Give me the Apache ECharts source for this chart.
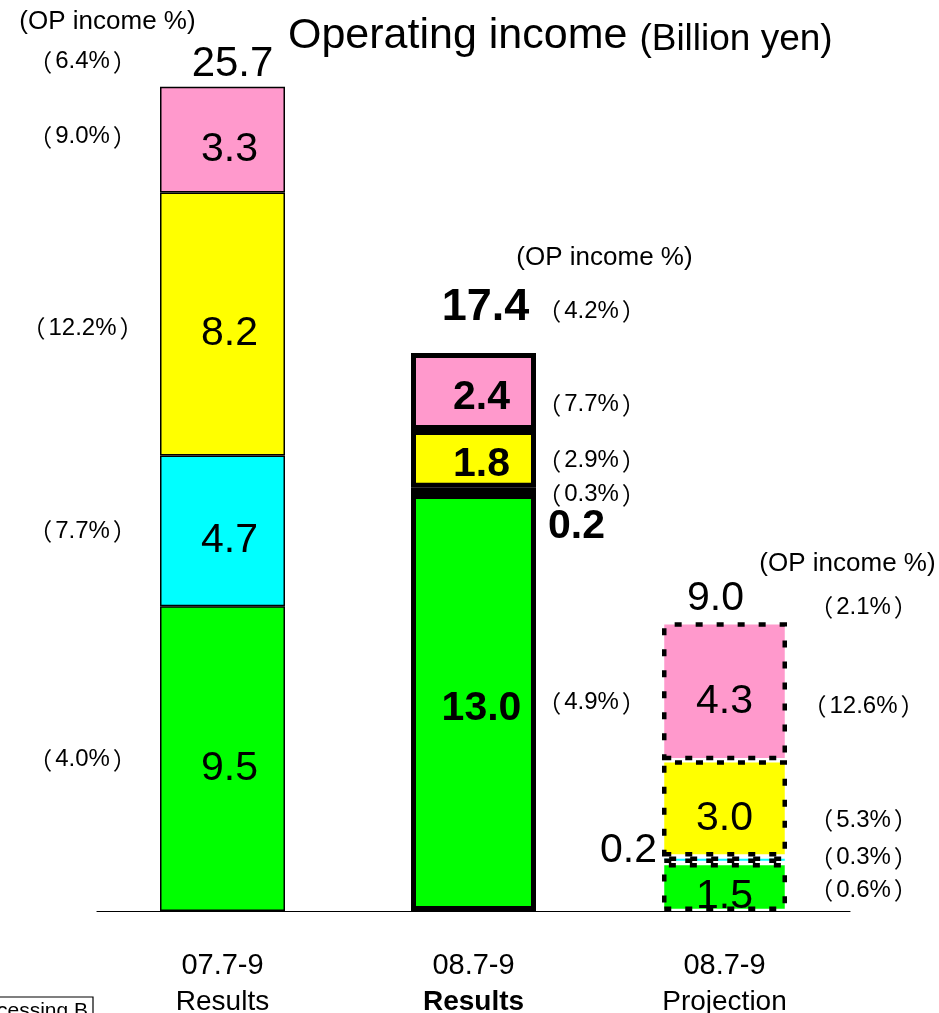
<!DOCTYPE html>
<html>
<head>
<meta charset="utf-8">
<script src="https://cdn.jsdelivr.net/npm/echarts@6/dist/echarts.min.js"></script>
<style>
  html, body { margin: 0; padding: 0; background: #fff; }
  #chart { width: 939px; height: 1013px; }
</style>
</head>
<body>
<div id="chart"></div>
<script>
// 数据
const periods = ['07.7-9', '08.7-9', '08.7-9'];
const kinds = ['Results', 'Results', 'Projection'];
const green = [9.5, 13.0, 1.5];
const cyan = [4.7, 0.2, 0.2];
const yellow = [8.2, 1.8, 3.0];
const pink = [3.3, 2.4, 4.3];
const totals = [25.7, 17.4, 9.0];
const pctGreen = ['4.0%', '4.9%', '0.6%'];
const pctCyan = ['7.7%', '0.3%', '0.3%'];
const pctYellow = ['12.2%', '2.9%', '5.3%'];
const pctPink = ['9.0%', '7.7%', '12.6%'];
const pctTotal = ['6.4%', '4.2%', '2.1%'];
const pctHeader = '(OP income %)';

// 样式 / 布局
const FONT = '"Liberation Sans", Arial, sans-serif';
const CJK = '"Noto Sans CJK JP", sans-serif';
const barLook = [
  { borderWidth: 1.5, borderType: 'solid', fontWeight: 'normal', offset: [7, 10] },
  { borderWidth: 5, borderType: 'solid', fontWeight: 'bold', offset: [8, 6] },
  { borderWidth: 4.5, borderType: [7, 14], fontWeight: 'normal', offset: [0, 10] },
];
const pctDx = [-140, 118, 139];
const layers = [
  { name: 'green', values: green, color: '#00FF00', pct: pctGreen, pctDy: [1, 0, 3] },
  { name: 'cyan', values: cyan, color: '#00FFFF', pct: pctCyan, pctDy: [0, 4, -2] },
  { name: 'yellow', values: yellow, color: '#FFFF00', pct: pctYellow, pctDy: [4, 2, 12] },
  { name: 'pink', values: pink, color: '#FF99CC', pct: pctPink, pctDy: [-3, 13, 15] },
];
// cyan 0.2 标在柱外
const cyanOutside = [
  null,
  { position: 'right', distance: 12, offset: [0, 36] },
  { position: 'left', distance: 5, offset: [0, -9] },
];
const totalOffset = [[10, -22], [12, -45], [-9, -24]];
const totalFont = [{ size: 42, weight: 'normal' }, { size: 45, weight: 'bold' }, { size: 41, weight: 'normal' }];
const totalPctOffset = [[-140, -25], [118, -42], [139, -15]];
const headerOffset = [[-115, -65], [131, -95], [123, -59]];

const pctRich = {
  l: { fontFamily: CJK, fontSize: 24, color: '#000', padding: [0, 3, 0, 0] },
  r: { fontFamily: CJK, fontSize: 24, color: '#000', padding: [0, 0, 0, 3] },
  t: { fontFamily: FONT, fontSize: 24, color: '#000' },
};
const pctText = (s) => `{l|（}{t|${s}}{r|）}`;

const chart = echarts.init(document.getElementById('chart'), null, { renderer: 'canvas' });

const barSeries = layers.map((layer) => ({
  name: layer.name,
  type: 'bar',
  stack: 'op',
  barWidth: 125,
  data: layer.values.map((v, i) => {
    const look = barLook[i];
    const out = layer.name === 'cyan' ? cyanOutside[i] : null;
    const showInside = !(layer.name === 'cyan' && i > 0);
    return {
      value: v,
      itemStyle: {
        color: layer.color,
        borderColor: '#000',
        borderWidth: look.borderWidth,
        borderType: look.borderType,
      },
      label: out ? {
        show: true,
        position: out.position,
        distance: out.distance,
        offset: out.offset,
        fontWeight: look.fontWeight,
      } : {
        show: showInside,
        position: 'inside',
        offset: look.offset,
        fontWeight: look.fontWeight,
      },
    };
  }),
  label: {
    show: true,
    color: '#000',
    fontSize: 41,
    fontFamily: FONT,
    formatter: (p) => p.value.toFixed(1),
  },
}));

// 注释点：合计、百分比、表头
const notes = [];
totals.forEach((t, i) => {
  notes.push({
    value: [i, t],
    label: {
      formatter: t.toFixed(1),
      offset: totalOffset[i],
      fontSize: totalFont[i].size,
      fontWeight: totalFont[i].weight,
      color: '#000',
    },
  });
  notes.push({
    value: [i, t],
    label: { formatter: pctText(pctTotal[i]), rich: pctRich, offset: totalPctOffset[i], color: '#000' },
  });
  notes.push({
    value: [i, t],
    label: { formatter: pctHeader, offset: headerOffset[i], fontSize: 26, color: '#000' },
  });
});
layers.forEach((layer, li) => {
  layer.values.forEach((v, i) => {
    let base = 0;
    for (let k = 0; k < li; k++) base += layers[k].values[i];
    notes.push({
      value: [i, base + v / 2],
      label: { formatter: pctText(layer.pct[i]), rich: pctRich, offset: [pctDx[i], layer.pctDy[i]], color: '#000' },
    });
  });
});

chart.setOption({
  animation: false,
  backgroundColor: '#fff',
  grid: { left: 97, right: 89, top: 13, bottom: 102, containLabel: false, outerBoundsMode: 'none' },
  xAxis: {
    type: 'category',
    data: periods.map((p, i) => p + ' ' + kinds[i]),
    axisLine: { lineStyle: { color: '#000', width: 1.2 } },
    axisTick: { show: false },
    axisLabel: {
      margin: 36,
      interval: 0,
      formatter: (v, i) => `{p|${periods[i]}}\n{${i === 1 ? 'kb' : 'k'}|${kinds[i]}}`,
      rich: {
        p: { fontSize: 29, lineHeight: 37, color: '#000', fontFamily: FONT },
        k: { fontSize: 28, lineHeight: 37, color: '#000', fontFamily: FONT },
        kb: { fontSize: 28, lineHeight: 37, color: '#000', fontFamily: FONT, fontWeight: 'bold' },
      },
    },
  },
  yAxis: { type: 'value', min: 0, max: 28, show: false, splitLine: { show: false } },
  series: [
    ...barSeries,
    {
      name: 'notes',
      type: 'scatter',
      symbolSize: 1,
      itemStyle: { color: 'transparent', opacity: 1 },
      z: 5,
      data: notes,
      label: { show: true, position: 'inside', color: '#000', opacity: 1, fontFamily: FONT },
      emphasis: { disabled: true },
    },
  ],
  graphic: [
    {
      type: 'text',
      x: 288,
      y: 12,
      style: {
        text: '{a|Operating income}{b|(Billion yen)}',
        rich: {
          a: { fontSize: 43, fontFamily: FONT, fill: '#000', verticalAlign: 'bottom', lineHeight: 46 },
          b: { fontSize: 37, fontFamily: FONT, fill: '#000', verticalAlign: 'bottom', lineHeight: 46, padding: [0, 0, 0, 12] },
        },
      },
    },
    {
      type: 'group',
      x: 0,
      y: 997,
      children: [
        { type: 'rect', shape: { x: -200, y: 0, width: 293, height: 40 }, style: { fill: '#fff', stroke: '#000', lineWidth: 1.2 } },
        { type: 'text', style: { x: 88, y: 4, text: 'Processing B', align: 'right', fontSize: 21, fontFamily: FONT, fill: '#000' } },
      ],
    },
  ],
});
</script>
</body>
</html>
